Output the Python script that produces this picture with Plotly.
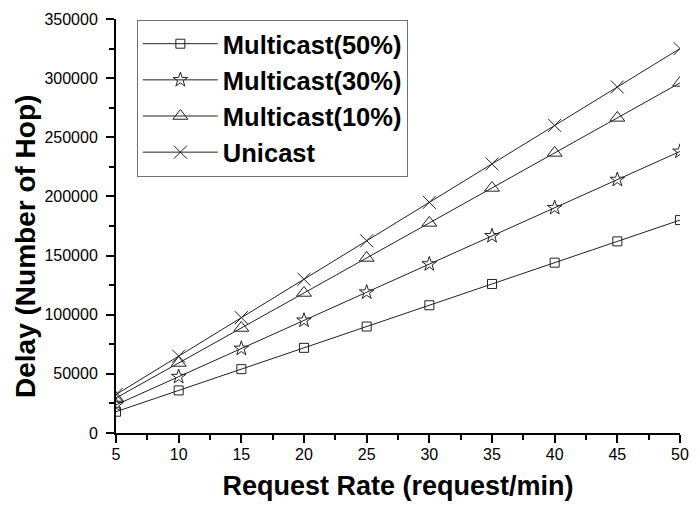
import plotly.graph_objects as go

request_rate = [5, 10, 15, 20, 25, 30, 35, 40, 45, 50]
multicast_50 = [18000, 36000, 54000, 72000, 90000, 108000, 126000, 144000, 162000, 180000]
multicast_30 = [23800, 47600, 71400, 95200, 119000, 142800, 166600, 190400, 214200, 238000]
multicast_10 = [29600, 59200, 88800, 118400, 148000, 177600, 207200, 236800, 266400, 296000]
unicast = [32500, 65000, 97500, 130000, 162500, 195000, 227500, 260000, 292500, 325000]

series = [
    ("Multicast(50%)", multicast_50, "square-open", 9),
    ("Multicast(30%)", multicast_30, "star-open", 11),
    ("Multicast(10%)", multicast_10, "triangle-up-open", 13),
    ("Unicast", unicast, "x-thin-open", 13),
]

FONT = "Liberation Sans, Arial, sans-serif"
LC = "#222222"

fig = go.Figure()
for name, vals, sym, sz in series:
    fig.add_trace(go.Scatter(
        x=request_rate, y=vals, name=name, mode="lines+markers",
        line=dict(color=LC, width=1),
        marker=dict(symbol=sym, size=sz, color=LC, line=dict(width=1, color=LC)),
        cliponaxis=True,
    ))

fig.update_layout(
    width=699, height=513,
    margin=dict(l=108, r=27, t=11, b=88),
    paper_bgcolor="white", plot_bgcolor="white",
    font=dict(family=FONT, color="black"),
    showlegend=True,
    legend=dict(
        x=0.037, y=0.9985, xanchor="left", yanchor="top",
        bordercolor="#707070", borderwidth=1, bgcolor="white",
        font=dict(size=25.5, family=FONT, color="black", weight="bold"),
        itemwidth=75, traceorder="normal",
    ),
    xaxis=dict(
        range=[5, 50], tickvals=request_rate, automargin=False,
        showline=True, linecolor="black", linewidth=2,
        ticks="outside", ticklen=8, tickwidth=2, tickcolor="black",
        minor=dict(dtick=2.5, tick0=5, ticks="outside", ticklen=5, tickwidth=2, tickcolor="black"),
        showgrid=False, zeroline=False, ticklabelstandoff=-2,
        tickfont=dict(size=16, family=FONT),
        title=dict(text="Request Rate (request/min)", font=dict(size=27, weight="bold", family=FONT), standoff=14),
    ),
    yaxis=dict(
        range=[0, 350000], dtick=50000, tickformat="d", automargin=False,
        showline=True, linecolor="black", linewidth=2,
        ticks="outside", ticklen=8, tickwidth=2, tickcolor="black",
        minor=dict(dtick=25000, ticks="outside", ticklen=5, tickwidth=2, tickcolor="black"),
        showgrid=False, zeroline=False, ticklabelstandoff=5,
        tickfont=dict(size=16, family=FONT),
    ),
    annotations=[dict(
        text="Delay (Number of Hop)", textangle=-90,
        xref="paper", yref="paper", x=0, y=0.5, xshift=-91, yshift=-21,
        xanchor="center", yanchor="middle", showarrow=False,
        font=dict(size=28, weight="bold", family=FONT, color="black"),
    )],
)

fig.write_html("out.html")
